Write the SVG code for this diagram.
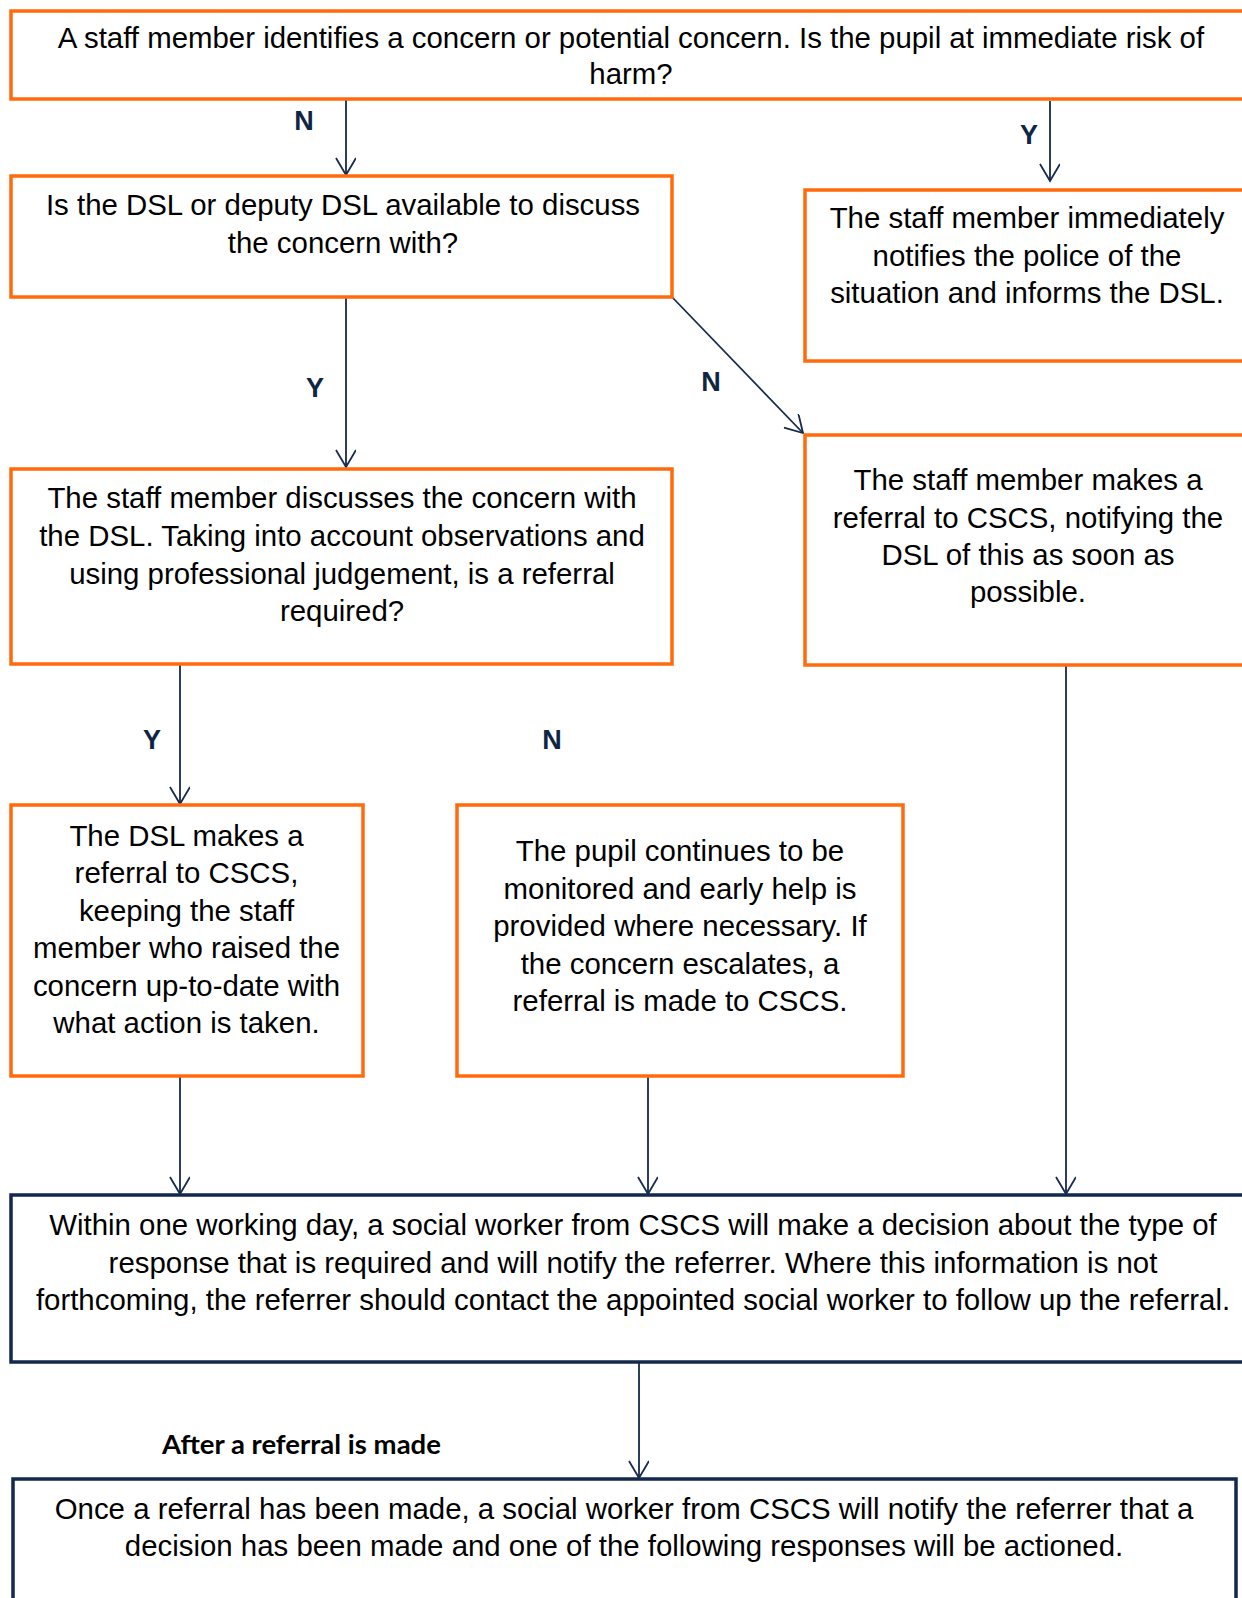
<svg xmlns="http://www.w3.org/2000/svg" width="1242" height="1598" viewBox="0 0 1242 1598">
<style>
.box{fill:#fff;stroke:#FF6A0C;stroke-width:3.5}
.nbox{fill:#fff;stroke:#13294B;stroke-width:3.5}
.t{font-family:"Liberation Sans",Arial,sans-serif;font-size:29.4px;fill:#000;text-anchor:middle}
.lbl{font-family:"Liberation Sans",Arial,sans-serif;font-size:27px;font-weight:bold;fill:#0E2544;text-anchor:middle}
.hd{font-family:Lato,"Liberation Sans",sans-serif;font-size:27.5px;font-weight:bold;fill:#000}
.c{stroke:#17294D;stroke-width:1.8;fill:none}
</style>
<defs>
<marker id="arr" markerUnits="userSpaceOnUse" markerWidth="24" markerHeight="24" refX="18" refY="10" orient="auto">
<path d="M1,0 L18,10 L1,20" fill="none" stroke="#17294D" stroke-width="1.8"/>
</marker>
</defs>
<rect width="1242" height="1598" fill="#fff"/>

<g id="connectors">
<line class="c" x1="346" y1="97" x2="346" y2="175" marker-end="url(#arr)"/>
<line class="c" x1="1050" y1="101" x2="1050" y2="181" marker-end="url(#arr)"/>
<line class="c" x1="672" y1="297" x2="803" y2="433" marker-end="url(#arr)"/>
<line class="c" x1="346" y1="297" x2="346" y2="467" marker-end="url(#arr)"/>
<line class="c" x1="180" y1="664" x2="180" y2="804" marker-end="url(#arr)"/>
<line class="c" x1="180" y1="1076" x2="180" y2="1194" marker-end="url(#arr)"/>
<line class="c" x1="648" y1="1076" x2="648" y2="1194" marker-end="url(#arr)"/>
<line class="c" x1="1066" y1="665" x2="1066" y2="1194" marker-end="url(#arr)"/>
<line class="c" x1="639" y1="1362" x2="639" y2="1478" marker-end="url(#arr)"/>
</g>

<g id="labels">
<text class="lbl" x="304" y="130">N</text>
<text class="lbl" x="1029" y="144">Y</text>
<text class="lbl" x="711" y="391">N</text>
<text class="lbl" x="315" y="397">Y</text>
<text class="lbl" x="152" y="749">Y</text>
<text class="lbl" x="552" y="749">N</text>
<text class="hd" x="162" y="1454">After a referral is made</text>
</g>

<g id="n1">
<rect class="box" x="11" y="11" width="1245" height="88"/>
<text class="t" x="631" y="48">A staff member identifies a concern or potential concern. Is the pupil at immediate risk of</text>
<text class="t" x="631" y="84">harm?</text>
</g>

<g id="n2">
<rect class="box" x="11" y="176" width="661" height="121"/>
<text class="t" x="343" y="215">Is the DSL or deputy DSL available to discuss</text>
<text class="t" x="343" y="252.5">the concern with?</text>
</g>

<g id="n3">
<rect class="box" x="805" y="190" width="450" height="171"/>
<text class="t" x="1027" y="228">The staff member immediately</text>
<text class="t" x="1027" y="265.5">notifies the police of the</text>
<text class="t" x="1027" y="302.5">situation and informs the DSL.</text>
</g>

<g id="n4">
<rect class="box" x="805" y="435" width="450" height="230"/>
<text class="t" x="1028" y="490">The staff member makes a</text>
<text class="t" x="1028" y="527.5">referral to CSCS, notifying the</text>
<text class="t" x="1028" y="565">DSL of this as soon as</text>
<text class="t" x="1028" y="602">possible.</text>
</g>

<g id="n5">
<rect class="box" x="11" y="469" width="661" height="195"/>
<text class="t" x="342" y="508">The staff member discusses the concern with</text>
<text class="t" x="342" y="546">the DSL. Taking into account observations and</text>
<text class="t" x="342" y="583.5">using professional judgement, is a referral</text>
<text class="t" x="342" y="621">required?</text>
</g>

<g id="n6">
<rect class="box" x="11" y="805" width="352" height="271"/>
<text class="t" x="186.5" y="845.5">The DSL makes a</text>
<text class="t" x="186.5" y="883">referral to CSCS,</text>
<text class="t" x="186.5" y="920.5">keeping the staff</text>
<text class="t" x="186.5" y="958">member who raised the</text>
<text class="t" x="186.5" y="995.5">concern up-to-date with</text>
<text class="t" x="186.5" y="1032.5">what action is taken.</text>
</g>

<g id="n7">
<rect class="box" x="457" y="805" width="446" height="271"/>
<text class="t" x="680" y="861">The pupil continues to be</text>
<text class="t" x="680" y="898.5">monitored and early help is</text>
<text class="t" x="680" y="936">provided where necessary. If</text>
<text class="t" x="680" y="974">the concern escalates, a</text>
<text class="t" x="680" y="1010.5">referral is made to CSCS.</text>
</g>

<g id="n8">
<rect class="nbox" x="11" y="1195" width="1246" height="167"/>
<text class="t" x="633" y="1235">Within one working day, a social worker from CSCS will make a decision about the type of</text>
<text class="t" x="633" y="1272.5">response that is required and will notify the referrer. Where this information is not</text>
<text class="t" x="633" y="1310">forthcoming, the referrer should contact the appointed social worker to follow up the referral.</text>
</g>

<g id="n9">
<rect class="nbox" x="13" y="1479" width="1223" height="140"/>
<text class="t" x="624" y="1519">Once a referral has been made, a social worker from CSCS will notify the referrer that a</text>
<text class="t" x="624" y="1556">decision has been made and one of the following responses will be actioned.</text>
</g>
</svg>
